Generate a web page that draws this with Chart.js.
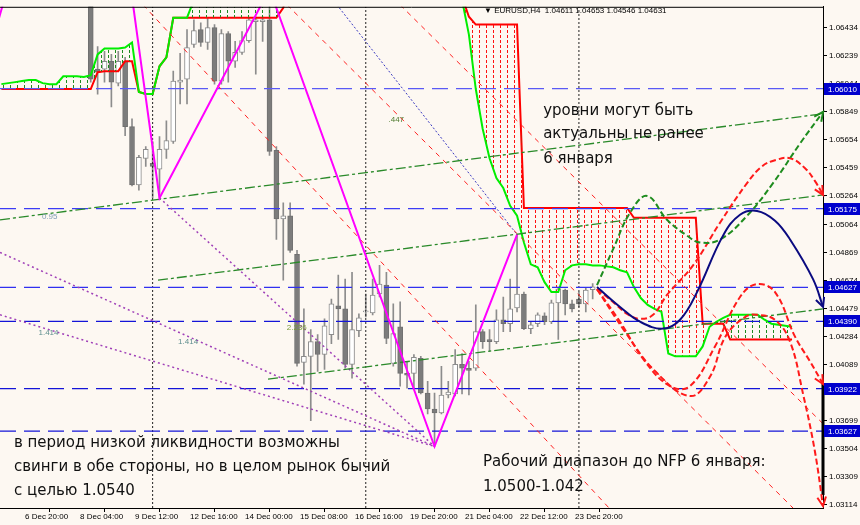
<!DOCTYPE html>
<html><head><meta charset="utf-8">
<script src="https://cdn.jsdelivr.net/npm/chart.js@4/dist/chart.umd.min.js"></script>
<style>html,body{margin:0;padding:0;background:#FDF8F2;}</style>
</head><body>
<canvas id="c" width="860" height="525"></canvas>
<script>
// ---------- DATA ----------
const candleIdx = [13,14,15,16,17,18,19,20,21,22,23,24,25,26,27,28,29,30,31,32,33,34,35,36,37,38,39,40,41,42,43,44,45,46,47,48,49,50,51,52,53,54,55,56,57,58,59,60,61,62,63,64,65,66,67,68,69,70,71,72,73,74,75,76,77,78,79,80,81,82,83,84,85,86];
const openP  = [1.06799,1.06145,1.06145,1.06200,1.06048,1.06200,1.05745,1.05339,1.05525,1.05490,1.05449,1.05587,1.05642,1.06055,1.06076,1.06317,1.06420,1.06331,1.06434,1.06062,1.06393,1.06200,1.06262,1.06344,1.06475,1.06475,1.06489,1.05580,1.05104,1.05125,1.04856,1.04105,1.04147,1.04250,1.04160,1.04298,1.04498,1.04477,1.04091,1.04326,1.04457,1.04450,1.04581,1.04643,1.04098,1.04353,1.04029,1.04029,1.04133,1.03892,1.03781,1.03754,1.03878,1.03885,1.04091,1.04064,1.04064,1.04319,1.04264,1.04250,1.04402,1.04374,1.04484,1.04581,1.04340,1.04374,1.04429,1.04388,1.04519,1.04608,1.04512,1.04546,1.04512,1.04611];
const highP  = [1.08742,1.06303,1.06269,1.06248,1.06269,1.06227,1.05800,1.05545,1.05607,1.05642,1.05676,1.05786,1.06131,1.06255,1.06420,1.06489,1.06468,1.06503,1.06455,1.06420,1.06406,1.06338,1.06406,1.06503,1.06510,1.06510,1.06703,1.05607,1.05215,1.05215,1.04884,1.04477,1.04333,1.04298,1.04408,1.04546,1.04712,1.04684,1.04732,1.04443,1.04581,1.04684,1.04780,1.04732,1.04512,1.04526,1.04112,1.04160,1.04147,1.03974,1.03892,1.04078,1.03974,1.04195,1.04167,1.04112,1.04505,1.04333,1.04333,1.04470,1.04560,1.04684,1.04994,1.04594,1.04388,1.04450,1.04450,1.04539,1.04629,1.04615,1.04539,1.04594,1.04622,1.04653];
const lowP   = [1.06055,1.05972,1.06055,1.05883,1.06028,1.05683,1.05332,1.05304,1.05469,1.05249,1.05249,1.05525,1.05628,1.05904,1.05904,1.06296,1.06303,1.06282,1.06041,1.06041,1.06055,1.06158,1.06248,1.06331,1.06110,1.06338,1.05545,1.04960,1.04677,1.04870,1.04078,1.03954,1.03699,1.04043,1.04057,1.04236,1.04264,1.04064,1.03995,1.04284,1.04422,1.04436,1.04560,1.04236,1.04078,1.03940,1.03926,1.03926,1.03885,1.03747,1.03520,1.03747,1.03857,1.03871,1.03885,1.03878,1.04050,1.04202,1.04181,1.04236,1.04319,1.04319,1.04457,1.04333,1.04305,1.04353,1.04367,1.04374,1.04264,1.04436,1.04457,1.04491,1.04457,1.04546];
const closeP = [1.06076,1.06124,1.06200,1.06055,1.06200,1.05745,1.05339,1.05531,1.05587,1.05469,1.05587,1.05649,1.06062,1.06069,1.06296,1.06413,1.06331,1.06434,1.06062,1.06393,1.06200,1.06262,1.06344,1.06489,1.06489,1.06489,1.05573,1.05104,1.05125,1.04884,1.04098,1.04147,1.04250,1.04160,1.04360,1.04512,1.04477,1.04091,1.04333,1.04415,1.04464,1.04574,1.04650,1.04271,1.04305,1.04029,1.04016,1.04140,1.03892,1.03781,1.03754,1.03878,1.03898,1.04091,1.04064,1.04050,1.04319,1.04250,1.04250,1.04402,1.04374,1.04477,1.04581,1.04340,1.04367,1.04436,1.04388,1.04519,1.04615,1.04512,1.04477,1.04512,1.04608,1.04631];

// Ichimoku Senkou spans, bar index 0..115 (values above 1.0658 are off the visible range)
const spanA = [1.06041,1.06048,1.06055,1.06062,1.06069,1.06069,1.06048,1.06041,1.06041,1.06096,1.06096,1.06096,1.06090,1.06103,1.06248,1.06289,1.06289,1.06289,1.06296,1.06331,1.05986,1.05972,1.05972,1.06165,1.06227,1.06503,1.06503,1.06503,1.06627,
1.0690,1.0690,1.0690,1.0690,1.0690,1.0690,1.0690,1.0690,1.0690,1.0690,1.0690,1.0690,1.0690,1.0690,1.0690,1.0690,1.0690,1.0690,1.0690,1.0690,1.0690,1.0690,1.0690,1.0690,1.0690,1.0690,1.0690,1.0690,1.0690,1.0690,1.0690,1.0690,1.0690,1.0690,1.0690,1.0690,1.0690,1.0690,
1.06627,1.06386,1.06007,1.05731,1.05525,1.05387,1.05318,1.05194,1.05125,1.04939,1.04787,1.04767,1.04663,1.04594,1.04594,1.04746,1.04780,1.04787,1.04787,1.04780,1.04780,1.04773,1.04767,1.04746,1.04732,1.04629,1.04553,1.04505,1.04477,1.04457,1.04167,1.04147,1.04147,1.04147,1.04147,1.04216,1.04353,1.04388,1.04415,1.04436,1.04436,1.04436,1.04436,1.04436,1.04402,1.04374,1.04367,1.04360,1.04353];
const spanB = [1.06007,1.06007,1.06007,1.06007,1.06007,1.06007,1.06007,1.06007,1.06007,1.06007,1.06007,1.06007,1.06007,1.06007,1.06124,1.06131,1.06131,1.06131,1.06200,1.06200,1.05986,1.05972,1.05972,1.06165,1.06227,
1.06503,1.06503,1.06503,1.06503,1.06503,1.06503,1.06503,1.06503,1.06503,1.06503,1.06503,1.06503,1.06503,1.06503,1.06503,1.06503,1.06572,
1.0680,1.0680,1.0680,1.0680,1.0680,1.0680,1.0680,1.0680,1.0680,1.0680,1.0680,1.0680,1.0680,1.0680,1.0680,1.0680,1.0680,1.0680,1.0680,
1.0700,1.0700,1.0700,1.0700,1.0700,1.0700,1.06648,1.06510,
1.06455,1.06455,1.06455,1.06455,1.06455,1.06455,1.06455,
1.05180,1.05180,1.05180,1.05180,1.05180,1.05180,1.05180,1.05180,1.05180,1.05180,1.05180,1.05180,1.05180,1.05180,1.05180,1.05180,
1.05111,1.05111,1.05111,1.05111,1.05111,1.05111,1.05111,1.05111,1.05111,1.05111,
1.04374,1.04374,1.04374,1.04374,
1.04264,1.04264,1.04264,1.04264,1.04264,1.04264,1.04264,1.04264,1.04264,1.04264];

// ZigZag swing points
const zzIdx   = [-3, 13, 23, 39, 63, 75];
const zzPrice = [1.06055, 1.08742, 1.05249, 1.06703, 1.03520, 1.04994];

// Horizontal levels
const levels = [1.06010, 1.05175, 1.04627, 1.04390, 1.03922, 1.03627];
const levelColors = ['#5A5AF5','#3C3CF5','#3030F0','#1414D8','#1414D8','#1414D8'];

// Trend / channel lines: [x1, y1, x2, y2] in (bar index, price)
const channelLines = [[-0.2,1.05097,119.5,1.05835],[22.78,1.04677,119.5,1.05270],[38.78,1.03988,119.5,1.04477]];
const fanLines     = [[20.60,1.06593,88.38,1.03092],[41.54,1.06593,115.14,1.03092],[57.98,1.06593,119.51,1.03678]];
const purpleLines  = [[-0.2,1.04870,63,1.03520],[23,1.05249,63,1.03520],[-0.2,1.04436,63,1.03520]];
const blueDotLine  = [48.8,1.06593,75,1.04994];
const separators   = [22, 53, 84];
const axisBar      = [119.5, 1.03954, 1.03182];

// Hand drawn forecast paths
const f1Idx = [86.63,88.96,91.43,93.91,96.81,99.72,101.62,104.52,108.45,112.23,116.16,119.51];
const f1P   = [1.04643,1.04891,1.05146,1.05263,1.05097,1.04987,1.04939,1.04960,1.05125,1.05352,1.05628,1.05848];
const f2Idx = [86.63,89.98,92.89,96.24,98.71,101.18,104.96,107.43,109.91,112.52,114.71,118.05,119.51];
const f2P   = [1.04629,1.04491,1.04388,1.04340,1.04402,1.04594,1.04987,1.05132,1.05159,1.05091,1.04960,1.04684,1.04491];
const f3Idx = [86.63,88.96,91.0,92.89,94.78,96.81,100.6,104.52,108.45,110.63,112.52,114.71,116.89,118.34,119.51];
const f3P   = [1.04615,1.04526,1.04443,1.04408,1.04436,1.04574,1.04780,1.05077,1.05352,1.05469,1.05511,1.05525,1.05456,1.05366,1.05270];
const f4Idx = [86.63,89.98,93.61,97.25,100.15,103.79,107.43,109.91,112.52,115.43,117.61,119.51];
const f4P   = [1.04615,1.04388,1.04112,1.03940,1.03940,1.04216,1.04560,1.04650,1.04594,1.04284,1.04112,1.03954];
const f5Idx = [86.63,90.7,95.1,100.2,103.1,105.3,108.2,109.9,112.5,114.7,116.6,118.3,119.5];
const f5P   = [1.04615,1.04319,1.04043,1.03871,1.04009,1.04284,1.04422,1.04436,1.04402,1.04250,1.03885,1.03492,1.03106];

// Axis ticks
const xTickIdx = [3,11,19,27,35,43,51,59,67,75,83];
const xTickLbl = ['6 Dec 20:00','8 Dec 04:00','9 Dec 12:00','12 Dec 16:00','14 Dec 00:00','15 Dec 08:00','16 Dec 16:00','19 Dec 20:00','21 Dec 04:00','22 Dec 12:00','23 Dec 20:00'];
const yTickVals = [1.06434,1.06239,1.06044,1.05849,1.05654,1.05459,1.05264,1.05064,1.04869,1.04674,1.04479,1.04284,1.04089,1.03894,1.03699,1.03504,1.03309,1.03114];

// Texts
const notes = [
 {t:'уровни могут быть', i:78.8, p:1.05855},
 {t:'актуальны не ранее', i:78.8, p:1.05690},
 {t:'6 января', i:78.8, p:1.05518},
 {t:'в период низкой ликвидности возможны', i:1.83, p:1.03540},
 {t:'свинги в обе стороны, но в целом рынок бычий', i:1.83, p:1.03375},
 {t:'с целью 1.0540', i:1.83, p:1.03210},
 {t:'Рабочий диапазон до NFP 6 января:', i:70.05, p:1.03409},
 {t:'1.0500-1.042', i:70.05, p:1.03237}
];
const fibLabels = [
 {t:'0.95', i:5.9, p:1.05118, c:'#7E9CB8'},
 {t:'1.414', i:5.4, p:1.04312, c:'#5E8E8E'},
 {t:'1.414', i:25.7, p:1.04250, c:'#5E8E8E'},
 {t:'2.236', i:41.5, p:1.04346, c:'#7A9A3A'},
 {t:'.447', i:56.3, p:1.05793, c:'#4E7A2E'}
];
const headerText = '▼ EURUSD,H4  1.04611 1.04653 1.04546 1.04631';

const X_MIN = -0.2, X_MAX = 119.5, Y_MIN = 1.03092, Y_MAX = 1.06579;

// ---------- BUILD ----------
Chart.defaults.font.family = 'Liberation Sans';
const canvas = document.getElementById('c');
const ctx = canvas.getContext('2d');
function hatch(color){
  const c = document.createElement('canvas'); c.width = 7; c.height = 5;
  const g = c.getContext('2d'); g.fillStyle = color; g.fillRect(3,0,1,3);
  return ctx.createPattern(c,'repeat');
}
const greenHatch = hatch('#1E8A1E');
const redHatch = hatch('#FF1010');

const pts = (xs, ys) => xs.map((x,k)=>({x:x, y:ys[k]}));
const seg = (a) => [{x:a[0],y:a[1]},{x:a[2],y:a[3]}];

const datasets = [];
datasets.push({type:'line', label:'spanA', data: spanA.map((v,k)=>({x:k,y:v})), borderColor:'#00EE00', borderWidth:2, pointRadius:0,
  fill:{target:1, above:greenHatch, below:redHatch}, order:8});
datasets.push({type:'line', label:'spanB', data: spanB.map((v,k)=>({x:k,y:v})), borderColor:'#FF0000', borderWidth:2, pointRadius:0, fill:false, order:8});
datasets.push({type:'bar', data: candleIdx.map((x,k)=>({x:x, y:[lowP[k], highP[k]]})), backgroundColor:'#8C8C8C', borderWidth:0, barThickness:1, grouped:false, order:11});
const bull = [], bear = [];
candleIdx.forEach((x,k)=>{ (closeP[k] >= openP[k] ? bull : bear).push({x:x, y:[openP[k], closeP[k]]}); });
datasets.push({type:'bar', data: bull, backgroundColor:'#FFFFFF', borderColor:'#8C8C8C', borderWidth:1, borderSkipped:false, barThickness:5, grouped:false, order:10});
datasets.push({type:'bar', data: bear, backgroundColor:'#7C7C7C', borderColor:'#707070', borderWidth:1, borderSkipped:false, barThickness:5, grouped:false, order:10});
separators.forEach(s => datasets.push({type:'line', data:[{x:s,y:Y_MIN},{x:s,y:Y_MAX}], borderColor:'#222', borderWidth:1, borderDash:[2,2], pointRadius:0, order:9}));
levels.forEach((lv,k) => datasets.push({type:'line', data:[{x:X_MIN,y:lv},{x:X_MAX,y:lv}], borderColor:levelColors[k], borderWidth:1.3, borderDash:[16,8], pointRadius:0, order:5}));
channelLines.forEach(l => datasets.push({type:'line', data:seg(l), borderColor:'#2A8A2A', borderWidth:1.3, borderDash:[10,3,3,3], pointRadius:0, order:4}));
fanLines.forEach(l => datasets.push({type:'line', data:seg(l), borderColor:'#FF2020', borderWidth:1, borderDash:[5,5], pointRadius:0, order:4}));
purpleLines.forEach(l => datasets.push({type:'line', data:seg(l), borderColor:'#A040B8', borderWidth:1.5, borderDash:[2,3], pointRadius:0, order:4}));
datasets.push({type:'line', data:seg(blueDotLine), borderColor:'#3A3AC0', borderWidth:1, borderDash:[2,2], pointRadius:0, order:4});
datasets.push({type:'line', data:pts(zzIdx, zzPrice), borderColor:'#FF00FF', borderWidth:2, pointRadius:0, order:3});
datasets.push({type:'line', data:[{x:axisBar[0],y:axisBar[1]},{x:axisBar[0],y:axisBar[2]}], borderColor:'#000', borderWidth:3, pointRadius:0, clip:false, order:2});
datasets.push({type:'line', data:pts(f1Idx,f1P), borderColor:'#1E8C1E', borderWidth:2, borderDash:[6,3], tension:0.4, pointRadius:0, arrow:true, clip:false, order:1});
datasets.push({type:'line', data:pts(f3Idx,f3P), borderColor:'#FF1A1A', borderWidth:2, borderDash:[6,3], tension:0.4, pointRadius:0, arrow:true, clip:false, order:1});
datasets.push({type:'line', data:pts(f4Idx,f4P), borderColor:'#FF1A1A', borderWidth:2, borderDash:[6,3], tension:0.4, pointRadius:0, arrow:true, clip:false, order:1});
datasets.push({type:'line', data:pts(f5Idx,f5P), borderColor:'#FF1A1A', borderWidth:2, borderDash:[6,3], tension:0.4, pointRadius:0, arrow:true, clip:false, order:1});
datasets.push({type:'line', data:pts(f2Idx,f2P), borderColor:'#0A0A80', borderWidth:2, tension:0.4, pointRadius:0, arrow:true, clip:false, order:0});

const bgPlugin = {id:'bg', beforeDraw(c){ const g=c.ctx; g.save(); g.fillStyle='#FDF8F2'; g.fillRect(0,0,c.width,c.height); g.restore(); }};
const overlay = {id:'overlay', afterDatasetsDraw(c){
  const g = c.ctx, xs = c.scales.x, ys = c.scales.y, ca = c.chartArea;
  g.save();
  c.data.datasets.forEach((ds,di)=>{
    if(!ds.arrow) return;
    const m = c.getDatasetMeta(di).data; const b = m[m.length-1];
    const px = (b.cp1x!==undefined)? b.cp1x : m[m.length-2].x, py = (b.cp1y!==undefined)? b.cp1y : m[m.length-2].y;
    const ang = Math.atan2(b.y-py, b.x-px), L = 10;
    g.strokeStyle = ds.borderColor; g.lineWidth = 2; g.setLineDash([]);
    g.beginPath();
    g.moveTo(b.x - L*Math.cos(ang-0.45), b.y - L*Math.sin(ang-0.45)); g.lineTo(b.x,b.y);
    g.lineTo(b.x - L*Math.cos(ang+0.45), b.y - L*Math.sin(ang+0.45)); g.stroke();
  });
  g.strokeStyle='#000'; g.lineWidth=1; g.beginPath(); g.moveTo(ca.left, ca.top+0.5); g.lineTo(ca.right, ca.top+0.5); g.stroke();
  g.font = '8px "Liberation Sans"'; g.textBaseline='middle'; g.textAlign='left';
  fibLabels.forEach(f=>{ g.fillStyle=f.c; g.fillText(f.t, xs.getPixelForValue(f.i), ys.getPixelForValue(f.p)); });
  g.font = '15px "DejaVu Sans"'; g.fillStyle='#111';
  notes.forEach(n=> g.fillText(n.t, xs.getPixelForValue(n.i), ys.getPixelForValue(n.p)));
  g.font = '8px "Liberation Sans"'; g.fillStyle='#000';
  g.fillText(headerText, 484, 11);
  g.restore();
}, afterDraw(c){
  const g = c.ctx, ys = c.scales.y, ca = c.chartArea;
  g.save(); g.font = '8px "Liberation Sans"'; g.textBaseline='middle'; g.textAlign='left';
  levels.forEach(lv=>{
    const y = Math.round(ys.getPixelForValue(lv));
    g.fillStyle = '#0000CD'; g.fillRect(ca.right+1, y-6, c.width-ca.right-1, 12);
    g.fillStyle = '#FFFFFF'; g.fillText(lv.toFixed(5), ca.right+5, y+0.5);
  });
  g.restore();
}};

new Chart(ctx, {
  type:'line',
  data:{datasets},
  options:{
    responsive:false, animation:false, devicePixelRatio:1, events:[],
    layout:{padding:{top:2,left:0,right:0,bottom:0}},
    plugins:{legend:{display:false}, tooltip:{enabled:false}},
    elements:{point:{radius:0}},
    scales:{
      x:{type:'linear', min:X_MIN, max:X_MAX, offset:false, position:'bottom',
         afterBuildTicks:s=>{ s.ticks = xTickIdx.map(v=>({value:v})); },
         afterFit:s=>{ s.height = 17; },
         grid:{drawOnChartArea:false, drawTicks:true, tickLength:4, color:'#000'},
         border:{display:true, color:'#000'},
         ticks:{autoSkip:false, maxRotation:0, minRotation:0, align:'start', labelOffset:3, padding:0, color:'#000', font:{size:8},
                callback:(v)=> xTickLbl[xTickIdx.indexOf(v)] }},
      y:{type:'linear', position:'right', min:Y_MIN, max:Y_MAX,
         afterBuildTicks:s=>{ s.ticks = yTickVals.map(v=>({value:v})); },
         afterFit:s=>{ s.width = 37; },
         grid:{drawOnChartArea:false, drawTicks:true, tickLength:4, color:'#000'},
         border:{display:true, color:'#000'},
         ticks:{autoSkip:false, padding:2, color:'#000', font:{size:8}, callback:(v)=> v.toFixed(5)}}
    }
  },
  plugins:[bgPlugin, overlay]
});
</script>
</body></html>
